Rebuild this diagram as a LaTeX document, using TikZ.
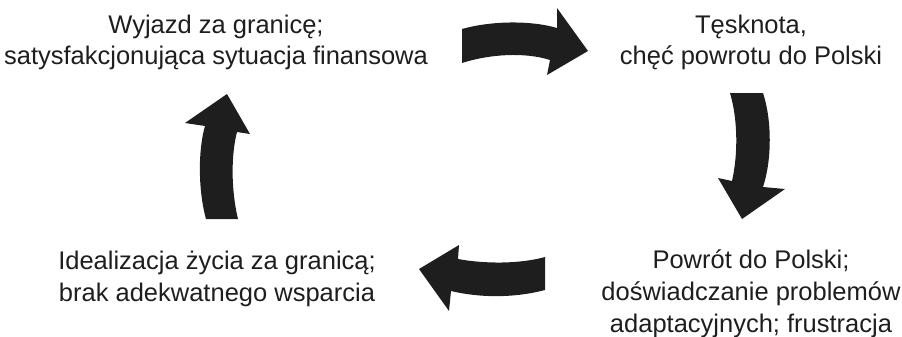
\documentclass[tikz,border=0pt]{standalone}
\usepackage{fontspec}
\setmainfont{Liberation Sans}
\definecolor{ink}{HTML}{1E1E1E}
\begin{document}
\begin{tikzpicture}[x=1pt,y=-1pt,
  label/.style={align=center,inner sep=0pt,anchor=base,text=ink,
    font=\fontsize{25.5}{32}\selectfont},
  blockarrow/.style={fill=ink,draw=none}]
\useasboundingbox (0,0) rectangle (902,337);

% stage descriptions (anchored at the baseline of the last line)
\node[label] (abroad) at (216,65) {Wyjazd za granicę;\\satysfakcjonująca sytuacja finansowa};
\node[label] (longing) at (751,65) {Tęsknota,\\chęć powrotu do Polski};
\node[label] (return) at (751,332) {Powrót do Polski;\\doświadczanie problemów\\adaptacyjnych; frustracja};
\node[label] (ideal) at (217,301) {Idealizacja życia za granicą;\\brak adekwatnego wsparcia};

% curved block arrows closing the cycle
\fill[blockarrow] (462,29) .. controls (490,21) and (530,20) .. (557,28)
  -- (557,8) -- (588,51) -- (547,75) -- (550,60)
  .. controls (525,52) and (490,54) .. (462,63) -- cycle;
\fill[blockarrow] (730,93) -- (763,93) .. controls (772,120) and (772,160) .. (763,187)
  -- (785,189) -- (742,219) -- (718,178) -- (732,181)
  .. controls (738,155) and (738,120) .. (730,93) -- cycle;
\fill[blockarrow] (545,257) -- (545,290) .. controls (515,298) and (480,298) .. (451,291)
  -- (449,311) -- (419,269) -- (459,245) -- (458,259)
  .. controls (485,264) and (520,264) .. (545,257) -- cycle;
\fill[blockarrow] (206,219) .. controls (198,190) and (198,150) .. (205,126)
  -- (185,123) -- (227,94) -- (250,134) -- (237,132)
  .. controls (231,155) and (231,190) .. (238,219) -- cycle;
\end{tikzpicture}
\end{document}
